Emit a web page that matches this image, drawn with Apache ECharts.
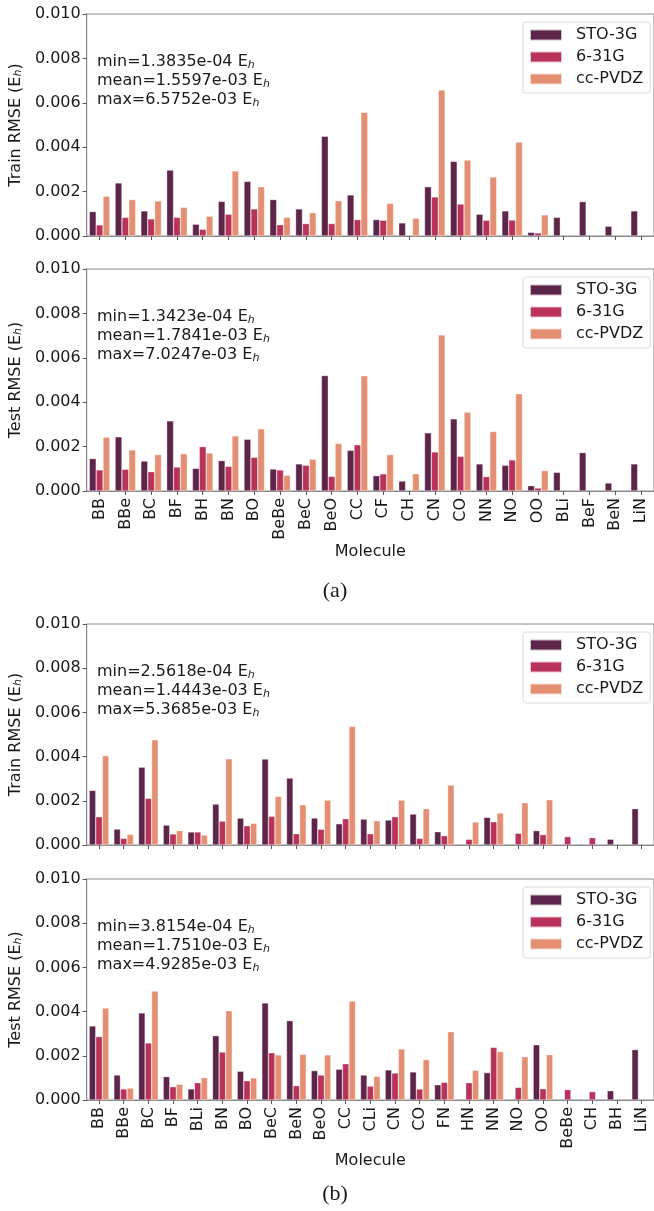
<!DOCTYPE html>
<html>
<head>
<meta charset="utf-8">
<script src="https://cdn.jsdelivr.net/npm/echarts@6/dist/echarts.min.js"></script>
<style>
html,body{margin:0;padding:0;background:#fff;}
#chart{width:654px;height:1211px;}
</style>
</head>
<body>
<div id="chart"></div>
<script>
// Values are in milli-Hartree (1e-3 E_h); axis labels are shown in E_h.
var seriesNames = ['STO-3G', '6-31G', 'cc-PVDZ'];
var colors = ['#5d2549', '#b8325a', '#e48f72'];
var yTicks = [0, 2, 4, 6, 8, 10];

// ---- Panel (a) ----
var catsA = ['BB','BBe','BC','BF','BH','BN','BO','BeBe','BeC','BeO','CC','CF','CH','CN','CO','NN','NO','OO','BLi','BeF','BeN','LiN'];
var trainA_sto = [1.10,2.39,1.13,2.97,0.53,1.56,2.46,1.64,1.22,4.49,1.85,0.74,0.59,2.22,3.36,0.98,1.13,0.165,0.84,1.55,0.44,1.13];
var trainA_631 = [0.50,0.84,0.77,0.84,0.30,0.98,1.22,0.51,0.56,0.56,0.74,0.71,null,1.76,1.44,0.71,0.72,0.138,null,null,null,null];
var trainA_cc  = [1.79,1.64,1.58,1.29,0.89,2.93,2.22,0.84,1.05,1.59,5.57,1.47,0.80,6.575,3.42,2.66,4.23,0.95,null,null,null,null];
var testA_sto  = [1.46,2.44,1.35,3.16,1.02,1.37,2.33,0.99,1.22,5.20,1.83,0.69,0.45,2.62,3.25,1.22,1.16,0.24,0.84,1.73,0.36,1.22];
var testA_631  = [0.95,0.98,0.87,1.08,2.00,1.11,1.52,0.95,1.16,0.66,2.08,0.77,null,1.76,1.56,0.65,1.40,0.134,null,null,null,null];
var testA_cc   = [2.42,1.85,1.64,1.68,1.71,2.48,2.80,0.71,1.43,2.14,5.19,1.64,0.78,7.025,3.55,2.68,4.38,0.92,null,null,null,null];

// ---- Panel (b) ----
var catsB = ['BB','BBe','BC','BF','BLi','BN','BO','BeC','BeN','BeO','CC','CLi','CN','CO','FN','HN','NN','NO','OO','BeBe','CH','BH','LiN'];
var trainB_sto = [2.47,0.72,3.52,0.90,0.59,1.85,1.22,3.89,3.03,1.22,0.96,1.17,1.13,1.40,0.60,null,1.25,null,0.65,null,null,0.26,1.64];
var trainB_631 = [1.28,0.30,2.11,0.50,0.59,1.08,0.87,1.30,0.51,0.71,1.19,0.51,1.28,0.30,0.42,0.256,1.05,0.53,0.47,0.38,0.33,null,null];
var trainB_cc  = [4.04,0.48,4.76,0.65,0.45,3.90,0.98,2.20,1.82,2.03,5.3685,1.10,2.03,1.64,2.71,1.04,1.45,1.91,2.05,null,null,null,null];
var testB_sto  = [3.35,1.13,3.94,1.06,0.50,2.91,1.30,4.39,3.59,1.33,1.39,1.13,1.36,1.27,0.69,null,1.24,null,2.50,null,null,0.42,2.28];
var testB_631  = [2.87,0.50,2.58,0.60,0.78,2.17,0.87,2.14,0.65,1.13,1.64,0.63,1.22,0.50,0.80,0.78,2.38,0.57,0.51,0.47,0.38,null,null];
var testB_cc   = [4.16,0.54,4.93,0.71,1.01,4.04,1.00,2.04,2.07,2.04,4.48,1.07,2.31,1.83,3.09,1.34,2.19,1.96,2.05,null,null,null,null];

// ---- Text ----
var statsText = [
  ['min=1.3835e-04 E', 'mean=1.5597e-03 E', 'max=6.5752e-03 E'],
  ['min=1.3423e-04 E', 'mean=1.7841e-03 E', 'max=7.0247e-03 E'],
  ['min=2.5618e-04 E', 'mean=1.4443e-03 E', 'max=5.3685e-03 E'],
  ['min=3.8154e-04 E', 'mean=1.7510e-03 E', 'max=4.9285e-03 E']
];
var yNames = ['Train RMSE (E', 'Test RMSE (E', 'Train RMSE (E', 'Test RMSE (E'];
var xName = 'Molecule';
var panelLabels = ['(a)', '(b)'];

var FONT = 'DejaVu Sans';
var TXT = '#1a1a1a';
var SPINE = '#8a8a8a';

var panels = [
  {cats: catsA, data: [trainA_sto, trainA_631, trainA_cc], top: 14, height: 222, left: 83, width: 572, labels: false},
  {cats: catsA, data: [testA_sto, testA_631, testA_cc], top: 269, height: 222, left: 83, width: 572, labels: true},
  {cats: catsB, data: [trainB_sto, trainB_631, trainB_cc], top: 624, height: 221, left: 82.5, width: 574, labels: false},
  {cats: catsB, data: [testB_sto, testB_631, testB_cc], top: 879, height: 221, left: 82.5, width: 574, labels: true}
];

var subRich = {
  s: {fontSize: 11, fontStyle: 'italic', fontFamily: FONT, color: TXT, verticalAlign: 'bottom', lineHeight: 12}
};

var grids = [], xAxes = [], yAxes = [], series = [], legends = [], titles = [];
panels.forEach(function (p, i) {
  grids.push({left: p.left, top: p.top, width: p.width, height: p.height, show: true,
    borderColor: SPINE, borderWidth: 1, backgroundColor: 'transparent', containLabel: false});
  xAxes.push({
    type: 'category', gridIndex: i, data: p.cats,
    axisLine: {show: true, lineStyle: {color: SPINE, width: 1}},
    axisTick: {show: true, alignWithLabel: true, length: 4, lineStyle: {color: '#555'}},
    axisLabel: {show: p.labels, rotate: 90, interval: 0, margin: 7, fontSize: 16, fontFamily: FONT, color: TXT},
    name: p.labels ? xName : '', nameLocation: 'middle', nameGap: 48,
    nameTextStyle: {fontSize: 16, fontFamily: FONT, color: TXT},
    splitLine: {show: false}
  });
  yAxes.push({
    type: 'value', gridIndex: i, min: yTicks[0], max: yTicks[yTicks.length - 1], interval: yTicks[1] - yTicks[0],
    axisLine: {show: true, lineStyle: {color: SPINE, width: 1}},
    axisTick: {show: true, length: 4, lineStyle: {color: '#555'}},
    axisLabel: {margin: 6, fontSize: 16, fontFamily: FONT, color: TXT,
      formatter: function (v) { return (v / 1000).toFixed(3); }},
    splitLine: {show: false},
    name: yNames[i] + '{s|h})', nameLocation: 'middle', nameGap: 43,
    nameTextStyle: {fontSize: 16, fontFamily: FONT, color: TXT, rich: subRich}
  });
  p.data.forEach(function (d, k) {
    series.push({
      type: 'bar', name: seriesNames[k], xAxisIndex: i, yAxisIndex: i, data: d,
      barWidth: '26.6%', barGap: '0%',
      itemStyle: {color: colors[k], borderColor: 'rgba(255,255,255,0.7)', borderWidth: 0.5},
      emphasis: {disabled: true}, animation: false
    });
  });
  legends.push({
    data: seriesNames, orient: 'vertical', left: 523, top: p.top + 8,
    icon: 'rect', itemWidth: 32, itemHeight: 11, itemGap: 6,
    padding: [5, 7, 6, 6],
    borderColor: '#dcdcdc', borderWidth: 1, borderRadius: 3, backgroundColor: 'rgba(255,255,255,0.85)',
    textStyle: {fontSize: 16, fontFamily: FONT, color: TXT, padding: [0, 0, 0, 9]},
    selectedMode: false
  });
  titles.push({
    text: statsText[i].map(function (s) { return s + '{s|h}'; }).join('\n'),
    left: 97, top: p.top + 38, padding: 0,
    textStyle: {fontSize: 16, fontFamily: FONT, color: TXT, fontWeight: 'normal', lineHeight: 19, rich: subRich}
  });
});

var chart = echarts.init(document.getElementById('chart'), null, {renderer: 'canvas'});
chart.setOption({
  animation: false,
  backgroundColor: '#fff',
  title: titles,
  legend: legends,
  grid: grids,
  xAxis: xAxes,
  yAxis: yAxes,
  series: series,
  graphic: [
    {type: 'text', x: 335, y: 591, style: {text: panelLabels[0], fontSize: 22, fontFamily: 'Liberation Serif', fill: TXT, textAlign: 'center', textVerticalAlign: 'middle'}},
    {type: 'text', x: 335, y: 1194, style: {text: panelLabels[1], fontSize: 22, fontFamily: 'Liberation Serif', fill: TXT, textAlign: 'center', textVerticalAlign: 'middle'}}
  ]
});
</script>
</body>
</html>
